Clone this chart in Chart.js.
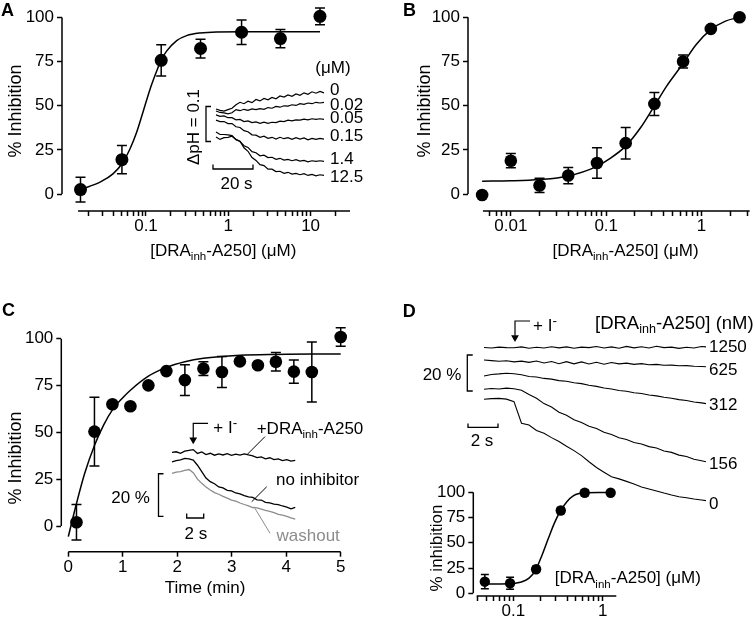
<!DOCTYPE html>
<html>
<head>
<meta charset="utf-8">
<script src="https://cdn.jsdelivr.net/npm/chart.js@4.4.1/dist/chart.umd.min.js"></script>
<style>
  html, body { margin: 0; padding: 0; background: #fff; }
  #fig { position: relative; width: 756px; height: 620px; overflow: hidden;
         font-family: 'Liberation Sans', Arial, sans-serif; color: #000; }
  #fig canvas { position: absolute; left: 0; top: 0; }
  .t { position: absolute; white-space: nowrap; line-height: 1; font-size: 17px; }
  .sub { font-size: 0.68em; position: relative; top: 0.38em; }
  .sup { font-size: 0.8em; position: relative; top: -0.45em; }
</style>
</head>
<body>
<div id="fig"></div>
<script>
// ---------- data ----------
const pctTicks = [0, 25, 50, 75, 100];

// A: dose response (uM)
const aConc  = [0.016, 0.051, 0.153, 0.46, 1.45, 4.3, 13];
const aInhib = [2.6, 19.5, 75.7, 82.4, 91.6, 88.0, 100.6];
const aSem   = [7.0, 8.0, 8.9, 5.3, 6.9, 5.2, 4.7];
const aFitX  = [0.016, 0.028, 0.04, 0.051, 0.064, 0.077, 0.093, 0.112, 0.135, 0.152, 0.178, 0.236, 0.312, 0.453, 0.722, 1.47, 13];
const aFitY  = [2.6, 6.9, 11.6, 17.2, 25.7, 35, 47.2, 59.4, 69.7, 75.7, 80.9, 86.9, 89.7, 91.2, 91.8, 91.9, 91.9];
const aMajor = [0.1, 1, 10];
// A inset: pH traces, one sample every 2 s
const aTraceT = [0, 2, 4, 6, 8, 10, 12, 14, 16, 18, 20, 22, 24, 26, 28, 30, 32, 34, 36, 38, 40, 42, 44, 46, 48, 50, 52, 54];
const aTraceLabels = ['0', '0.02', '0.05', '0.15', '1.4', '12.5'];
const aTr0   = [0.203,0.199,0.197,0.201,0.205,0.215,0.222,0.218,0.225,0.221,0.230,0.226,0.233,0.229,0.236,0.232,0.240,0.237,0.243,0.239,0.246,0.242,0.249,0.245,0.252,0.248,0.253,0.249];
const aTr002 = [0.197,0.193,0.192,0.189,0.192,0.201,0.198,0.202,0.199,0.203,0.201,0.204,0.202,0.207,0.205,0.210,0.208,0.212,0.211,0.215,0.213,0.218,0.216,0.220,0.218,0.222,0.220,0.222];
const aTr005 = [0.186,0.182,0.183,0.178,0.178,0.172,0.173,0.167,0.169,0.164,0.166,0.162,0.165,0.162,0.165,0.164,0.168,0.167,0.171,0.169,0.172,0.171,0.174,0.172,0.175,0.173,0.175,0.173];
const aTr015 = [0.171,0.167,0.167,0.161,0.161,0.152,0.150,0.141,0.138,0.129,0.128,0.122,0.125,0.119,0.122,0.117,0.122,0.118,0.121,0.116,0.121,0.117,0.120,0.115,0.119,0.116,0.119,0.117];
const aTr14  = [0.137,0.130,0.130,0.129,0.127,0.115,0.110,0.098,0.093,0.081,0.078,0.069,0.071,0.064,0.065,0.059,0.062,0.057,0.059,0.055,0.058,0.054,0.056,0.052,0.055,0.053,0.055,0.053];
const aTr125 = [0.123,0.116,0.121,0.122,0.125,0.116,0.111,0.092,0.082,0.064,0.056,0.044,0.041,0.031,0.031,0.024,0.025,0.019,0.022,0.017,0.019,0.015,0.018,0.013,0.016,0.012,0.015,0.013];

// B: dose response (uM)
const bConc  = [0.005, 0.01, 0.02, 0.04, 0.08, 0.16, 0.32, 0.64, 1.25, 2.5];
const bInhib = [-0.5, 18.9, 4.9, 10.5, 17.6, 28.8, 51.0, 75.0, 93.4, 100.0];
const bSem   = [0, 4, 4, 4.6, 8.6, 8.9, 6.5, 3.7, 0, 0];
const bFitX  = [0.005, 0.01, 0.02, 0.039, 0.078, 0.105, 0.159, 0.231, 0.316, 0.432, 0.631, 0.879, 1.25, 1.78, 2.5];
const bFitY  = [7.3, 7.5, 8.2, 10.1, 15.4, 19.5, 27, 37.8, 49.4, 61.2, 73.4, 84.6, 93, 97.8, 100];
const bMajor = [0.01, 0.1, 1];

// C: time course (min)
const cTime  = [0.15, 0.48, 0.81, 1.14, 1.47, 1.8, 2.14, 2.48, 2.82, 3.15, 3.48, 3.81, 4.14, 4.47, 5.0];
const cInhib = [2, 50.4, 65, 63.9, 75.1, 82.7, 77.9, 84, 82.2, 87.9, 85.8, 87.7, 82.4, 82.2, 100.9];
const cSem   = [9.5, 18.3, 0, 0, 0, 0, 8.2, 3.7, 8.3, 0, 0, 4.9, 6.2, 16, 5];
const cFitX  = [0, 0.15, 0.3, 0.48, 0.65, 0.81, 1.0, 1.14, 1.47, 1.8, 2.14, 2.48, 3.15, 3.81, 4.5, 5];
const cFitY  = [-5.7, 12, 28, 43, 54, 62, 68.5, 72.5, 80, 84.7, 87.7, 89.5, 91.1, 91.6, 91.8, 91.8];
const cMinTicks = [0, 1, 2, 3, 4, 5];
// C inset: fluorescence traces (%), one sample every 0.5 s
const cTraceT = [0,0.5,1,1.5,2,2.5,3,3.5,4,4.5,5,5.5,6,6.5,7,7.5,8,8.5,9,9.5,10,10.5,11,11.5,12,12.5,13,13.5,14,14.5];
const cTrDRA  = [34.0,34.3,33.6,34.6,35.0,35.3,33.5,34.2,33.0,33.6,32.7,33.3,32.8,33.4,32.6,33.2,32.7,33.3,32.8,32.4,31.6,31.9,31.0,31.5,30.6,31.0,30.2,30.6,29.9,30.3];
const cTrNone = [29.6,30.2,30.5,31.2,31.0,30.4,28.0,25.0,22.0,20.3,19.3,17.8,17.4,16.2,16.0,15.0,14.6,13.8,13.2,12.9,11.8,11.7,10.6,10.4,9.8,9.5,8.9,8.4,7.6,8.3];
const cTrWash = [24.2,24.8,25.0,25.6,26.0,24.5,21.5,19.5,17.8,16.4,15.2,14.4,13.4,12.6,11.7,11.2,10.3,9.6,9.0,8.2,8.0,7.4,6.8,6.4,5.8,5.0,4.6,4.0,3.3,2.8];

// D: dose response (uM) + traces (%)
const dConc  = [0.048, 0.092, 0.18, 0.34, 0.63, 1.23];
const dInhib = [11.5, 9.9, 23.8, 82, 99.6, 99.6];
const dSem   = [7, 6, 3, 3, 3, 0];
const dFitX  = [0.048, 0.09, 0.12, 0.15, 0.18, 0.21, 0.246, 0.29, 0.34, 0.4, 0.469, 0.55, 0.63, 0.9, 1.23];
const dFitY  = [9.3, 9.5, 11, 15, 24, 38, 54, 70, 82, 91, 96.5, 98.8, 99.5, 99.8, 99.8];
const dMajor = [0.1, 1];
const dTraceT = [0,0.5,1,1.5,2,2.5,3,3.5,4,4.5,5,5.5,6,6.5,7,7.5,8,8.5,9,9.5,10,10.5,11,11.5,12,12.5,13,13.5,14,14.5,14.8];
const dTraceLabels = ['1250', '625', '312', '156', '0'];
const dTr1250 = [90.3,90.0,90.5,90.2,90.1,90.6,89.9,90.4,90.0,90.7,90.1,90.6,89.9,90.5,90.2,90.8,90.0,90.6,89.9,90.9,90.1,90.7,90.0,91.0,90.2,90.5,89.8,90.4,90.0,90.8,90.6];
const dTr625  = [83.3,83.0,82.6,82.9,82.3,82.7,82.0,82.8,81.7,82.5,81.3,82.4,81.2,82.3,81.1,82.1,81.0,81.9,81.2,81.6,80.9,81.3,80.7,80.9,80.4,80.5,80.1,80.2,79.9,79.7,79.6];
const dTr312  = [74.4,75.3,75.6,76.0,75.7,75.1,74.2,73.9,73.1,72.7,71.9,71.5,70.7,70.2,69.3,68.7,67.8,67.2,66.4,66.0,65.1,64.7,63.9,63.4,62.6,62.1,61.3,60.8,60.0,59.5,59.1];
const dTr156  = [67.1,67.5,67.2,67.7,67.4,66.5,64.2,62.1,59.1,57.2,54.3,52.6,50.1,48.6,46.5,45.3,43.2,41.9,40.1,39.2,37.5,36.7,35.2,34.4,32.8,32.0,30.5,29.7,28.2,27.4,26.8];
const dTr0    = [61.5,61.9,62.0,61.6,60.2,48.2,47.2,44.2,42.6,40.2,38.0,35.4,33.0,30.2,26.8,23.6,21.0,18.5,17.3,15.9,14.4,12.8,11.7,10.6,9.4,8.3,7.4,6.8,6.1,5.6,5.2];

// ---------- setup ----------
Chart.defaults.font.family = "'Liberation Sans', Arial, sans-serif";
Chart.defaults.font.size = 17;
Chart.defaults.color = '#000';
Chart.defaults.animation = false;
Chart.defaults.events = [];
Chart.defaults.plugins.legend.display = false;
Chart.defaults.plugins.tooltip.enabled = false;

const fig = document.getElementById('fig');
const GRAY = '#8c8c8c';

function newCanvas() {
  const c = document.createElement('canvas');
  c.width = 756; c.height = 620;
  c.style.width = '756px'; c.style.height = '620px';
  fig.appendChild(c);
  return c;
}

function pts(xs, ys) {
  return xs.map((x, i) => ({ x: x, y: ys[i] }));
}

// 1..9 x 10^n ticks for a log axis
function logTicks(lo, hi) {
  const out = [];
  for (let e = Math.floor(Math.log10(lo)); e <= Math.ceil(Math.log10(hi)); e++) {
    for (let m = 1; m < 10; m++) {
      const v = +(m * Math.pow(10, e)).toPrecision(6);
      if (v >= lo && v <= hi) out.push(v);
    }
  }
  return out;
}

// detached axis lines (y from 0 to 100, x along the bottom)
const axisLines = {
  id: 'axisLines',
  beforeDatasetsDraw(chart, args, opts) {
    if (!opts.x) return;
    const { ctx, chartArea, scales } = chart;
    ctx.save();
    ctx.strokeStyle = '#000';
    ctx.lineWidth = 1.5;
    ctx.beginPath();
    ctx.moveTo(chartArea.left, scales.y.getPixelForValue(opts.y[0]));
    ctx.lineTo(chartArea.left, scales.y.getPixelForValue(opts.y[1]));
    ctx.moveTo(scales.x.getPixelForValue(opts.x[0]), chartArea.bottom);
    ctx.lineTo(scales.x.getPixelForValue(opts.x[1]), chartArea.bottom);
    ctx.stroke();
    ctx.restore();
  }
};

// SEM bars drawn just before the points
const errorBars = {
  id: 'errorBars',
  beforeDatasetDraw(chart, args) {
    const ds = chart.data.datasets[args.index];
    if (!ds.errors) return;
    const { ctx, scales } = chart;
    ctx.save();
    ctx.strokeStyle = '#000';
    ctx.lineWidth = 1.5;
    ds.data.forEach((p, i) => {
      const e = ds.errors[i];
      if (!e) return;
      const px = scales.x.getPixelForValue(p.x);
      const y1 = scales.y.getPixelForValue(p.y - e);
      const y2 = scales.y.getPixelForValue(p.y + e);
      const w = ds.capW;
      ctx.beginPath();
      ctx.moveTo(px, y1); ctx.lineTo(px, y2);
      ctx.moveTo(px - w, y1); ctx.lineTo(px + w, y1);
      ctx.moveTo(px - w, y2); ctx.lineTo(px + w, y2);
      ctx.stroke();
    });
    ctx.restore();
  }
};

function doseChart(o) {
  const [l, r, t, b] = o.area;
  const tickGrid = { drawOnChartArea: false, tickLength: 5, tickWidth: 1.5, tickColor: '#000' };
  const xScale = {
    type: o.log ? 'logarithmic' : 'linear',
    min: o.xMin, max: o.xMax, bounds: 'data',
    afterBuildTicks: s => { s.ticks = o.xTicks.map(v => ({ value: v })); },
    afterFit: s => { s.height = o.xh; s.paddingLeft = 0; s.paddingRight = 0; },
    ticks: {
      autoSkip: false, maxRotation: 0, padding: 0,
      callback: v => (o.major ? (o.major.includes(v) ? String(v) : '') : String(v))
    },
    grid: tickGrid,
    border: { display: false }
  };
  const yScale = {
    type: 'linear', min: o.yMin, max: o.yMax, bounds: 'data',
    afterBuildTicks: s => { s.ticks = pctTicks.map(v => ({ value: v })); },
    afterFit: s => { s.width = 60; s.paddingTop = 0; s.paddingBottom = 0; },
    ticks: { padding: 3 },
    grid: tickGrid,
    border: { display: false }
  };
  return new Chart(newCanvas(), {
    type: 'scatter',
    data: {
      datasets: [
        { data: pts(o.x, o.y), errors: o.err, capW: o.capW, pointRadius: o.r,
          backgroundColor: '#000', borderColor: '#000', borderWidth: 0, clip: false },
        { data: pts(o.fitX, o.fitY), showLine: true, borderColor: '#000', borderWidth: 1.5,
          pointRadius: 0, cubicInterpolationMode: 'monotone', clip: false }
      ]
    },
    options: {
      responsive: false, devicePixelRatio: 1,
      layout: { padding: { left: l - 60, right: 756 - r, top: t, bottom: 620 - b - o.xh } },
      scales: { x: xScale, y: yScale },
      plugins: { axisLines: { x: o.xLine, y: [0, 100] } }
    },
    plugins: [axisLines, errorBars]
  });
}

function line(data, color, width) {
  return { data: data, showLine: true, pointRadius: 0, borderColor: color || '#000',
           borderWidth: width || 1.2, clip: false };
}
function arrowTip(p) {
  return { data: [p], pointStyle: 'triangle', rotation: 180, pointRadius: 4.5,
           backgroundColor: '#000', borderColor: '#000', borderWidth: 0, clip: false };
}

function traceChart(o) {
  const [l, r, t, b] = o.area;
  return new Chart(newCanvas(), {
    type: 'scatter',
    data: { datasets: o.datasets },
    options: {
      responsive: false, devicePixelRatio: 1,
      layout: { padding: { left: l, right: 756 - r, top: t, bottom: 620 - b } },
      scales: {
        x: { type: 'linear', display: false, bounds: 'data', min: o.xr[0], max: o.xr[1] },
        y: { type: 'linear', display: false, bounds: 'data', min: o.yr[0], max: o.yr[1] }
      }
    }
  });
}

// ---------- panel A ----------
doseChart({
  area: [62, 350, 5, 211], xh: 30, log: true,
  xMin: 0.009535, xMax: 30.12, xTicks: logTicks(0.0199, 20.1), major: aMajor, xLine: [0.01493, 30.12],
  yMin: -9.55, yMax: 106.18,
  x: aConc, y: aInhib, err: aSem, fitX: aFitX, fitY: aFitY, r: 6.5, capW: 5
});
traceChart({
  area: [200, 330, 80, 185], xr: [-8, 57], yr: [-0.0143, 0.2857],
  datasets: [
    line(pts(aTraceT, aTr0)), line(pts(aTraceT, aTr002)), line(pts(aTraceT, aTr005)),
    line(pts(aTraceT, aTr015)), line(pts(aTraceT, aTr14)), line(pts(aTraceT, aTr125)),
    // 0.1 pH bar and 20 s bar
    line([{ x: -2.5, y: 0.21 }, { x: -5, y: 0.21 }, { x: -5, y: 0.11 }, { x: -2.5, y: 0.11 }], '#000', 1.3),
    line([{ x: -1.5, y: 0.0443 }, { x: -1.5, y: 0.0314 }, { x: 18.5, y: 0.0314 }, { x: 18.5, y: 0.0443 }], '#000', 1.3)
  ]
});

// ---------- panel B ----------
doseChart({
  area: [468, 756, 5, 211], xh: 30, log: true,
  xMin: 0.003555, xMax: 3.196, xTicks: logTicks(0.0059, 3.01), major: bMajor, xLine: [0.0051, 3.196],
  yMin: -9.55, yMax: 106.18,
  x: bConc, y: bInhib, err: bSem, fitX: bFitX, fitY: bFitY, r: 6.3, capW: 5
});

// ---------- panel C ----------
doseChart({
  area: [61.3, 341, 325, 551.7], xh: 30, log: false,
  xMin: -0.1285, xMax: 5.0055, xTicks: cMinTicks, major: null, xLine: [0, 5],
  yMin: -13.72, yMax: 107.31,
  x: cTime, y: cInhib, err: cSem, fitX: cFitX, fitY: cFitY, r: 6.3, capW: 5
});
traceChart({
  area: [150, 300, 410, 540], xr: [-2.588, 15.059], yr: [-7.026, 53.864],
  datasets: [
    line(pts(cTraceT, cTrWash), GRAY, 1.3),
    line(pts(cTraceT, cTrNone), '#000', 1.3),
    line(pts(cTraceT, cTrDRA), '#000', 1.3),
    // 20 % and 2 s bars
    line([{ x: -1.0, y: 24.0 }, { x: -1.588, y: 24.0 }, { x: -1.588, y: 4.0 }, { x: -1.0, y: 4.0 }], '#000', 1.3),
    line([{ x: 1.73, y: 5.39 }, { x: 1.73, y: 3.28 }, { x: 3.73, y: 3.28 }, { x: 3.73, y: 5.39 }], '#000', 1.3),
    // + I- arrow
    line([{ x: 4.24, y: 47.63 }, { x: 2.5, y: 47.63 }, { x: 2.5, y: 40.5 }], '#000', 1.2),
    arrowTip({ x: 2.5, y: 39.9 }),
    // leaders
    line([{ x: 10.94, y: 41.4 }, { x: 8.79, y: 32.8 }], '#000', 1),
    line([{ x: 11.14, y: 17.9 }, { x: 9.38, y: 10.9 }], '#000', 1),
    line([{ x: 11.53, y: -3.9 }, { x: 9.76, y: 7.8 }], GRAY, 1)
  ]
});

// ---------- panel D ----------
doseChart({
  area: [473.3, 616.3, 487, 596], xh: 20, log: true,
  xMin: 0.03565, xMax: 1.4232, xTicks: logTicks(0.0399, 1.01), major: dMajor, xLine: [0.0389, 1.4232],
  yMin: -2.673, yMax: 105.25,
  x: dConc, y: dInhib, err: dSem, fitX: dFitX, fitY: dFitY, r: 5.2, capW: 4
});
traceChart({
  area: [440, 716, 300, 510], xr: [-2.9333, 15.4667], yr: [0, 116.667],
  datasets: [
    line(pts(dTraceT, dTr1250), '#000', 1.1), line(pts(dTraceT, dTr625), '#000', 1.1),
    line(pts(dTraceT, dTr312), '#000', 1.1), line(pts(dTraceT, dTr156), '#000', 1.1),
    line(pts(dTraceT, dTr0), '#000', 1.1),
    // 20 % and 2 s bars
    line([{ x: -0.75, y: 86.1 }, { x: -1.113, y: 86.1 }, { x: -1.113, y: 66.1 }, { x: -0.75, y: 66.1 }], '#000', 1.3),
    line([{ x: -1.067, y: 48.1 }, { x: -1.067, y: 45.9 }, { x: 0.933, y: 45.9 }, { x: 0.933, y: 48.1 }], '#000', 1.3),
    // + I- arrow
    line([{ x: 3.067, y: 105 }, { x: 2.067, y: 105 }, { x: 2.067, y: 97 }], '#000', 1.2),
    arrowTip({ x: 2.067, y: 95.8 })
  ]
});

// ---------- text ----------
function txt(html, x, y, o) {
  o = o || {};
  const d = document.createElement('div');
  d.className = 't';
  d.innerHTML = html;
  d.style.left = x + 'px';
  d.style.top = y + 'px';
  if (o.size) d.style.fontSize = o.size + 'px';
  if (o.bold) d.style.fontWeight = 'bold';
  if (o.color) d.style.color = o.color;
  let tf = o.left ? 'translate(0,-50%)' : 'translate(-50%,-50%)';
  if (o.rot) tf += ' rotate(-90deg)';
  d.style.transform = tf;
  fig.appendChild(d);
}
const SUB = "<span class='sub'>inh</span>";
const SUP = "<span class='sup'>-</span>";
const drugUM = '[DRA' + SUB + '-A250] (μM)';

txt('A', 7.5, 9.5, { bold: 1, size: 18 });
txt('B', 409.5, 10, { bold: 1, size: 18 });
txt('C', 8.5, 309.5, { bold: 1, size: 18 });
txt('D', 409.2, 310.5, { bold: 1, size: 18 });

txt('% Inhibition', 15, 111, { rot: 1, size: 18 });
txt(drugUM, 223.3, 250);
txt('(μM)', 333, 66.7);
const aLabelY = [88.7, 104, 116.5, 135, 157.5, 176.3];
aTraceLabels.forEach((s, i) => txt(s, 330, aLabelY[i], { left: 1 }));
txt('ΔpH = 0.1', 192.5, 126.7, { rot: 1 });
txt('20 s', 236.5, 183);

txt('% Inhibition', 423.8, 111, { rot: 1, size: 18 });
txt(drugUM, 625.5, 250);

txt('% Inhibition', 15, 458.3, { rot: 1, size: 18 });
txt('Time (min)', 205, 586.7);
txt('+ I' + SUP, 213.3, 426.7, { left: 1 });
txt('+DRA' + SUB + '-A250', 256.7, 427.5, { left: 1 });
txt('no inhibitor', 276, 479, { left: 1 });
txt('washout', 276.5, 534.5, { left: 1, color: GRAY });
txt('20 %', 130.6, 496.7);
txt('2 s', 195.8, 532.5);

txt('+ I' + SUP, 533, 325, { left: 1 });
txt('[DRA' + SUB + '-A250] (nM)', 595, 322.7, { left: 1, size: 18.5 });
const dLabelY = [346, 368.5, 404, 463, 503];
dTraceLabels.forEach((s, i) => txt(s, 709, dLabelY[i], { left: 1 }));
txt('20 %', 442, 374);
txt('2 s', 482, 439.5);
txt('% inhibition', 436.3, 547.5, { rot: 1 });
txt(drugUM, 554.7, 577.3, { left: 1 });
</script>
</body>
</html>
